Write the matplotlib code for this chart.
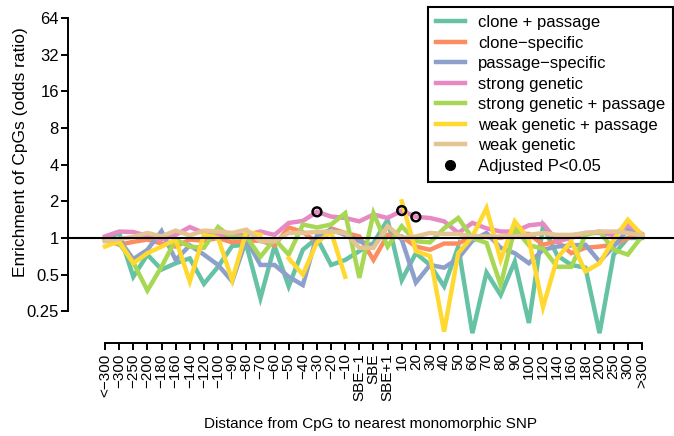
"""
Enrichment of CpGs vs. distance to nearest monomorphic SNP.
"""

import numpy as np

from matplotlib import pyplot as plt
from matplotlib.lines import Line2D

plt.rcParams['font.family'] = ['Liberation Sans', 'DejaVu Sans']
plt.rcParams['axes.unicode_minus'] = True

nan = np.nan

categories = ["<−300", "−300", "−250", "−200", "−180", "−160", "−140", "−120", "−100",
              "−90", "−80", "−70", "−60", "−50", "−40", "−30", "−20", "−10",
              "SBE−1", "SBE", "SBE+1",
              "10", "20", "30", "40", "50", "60", "70", "80", "90", "100",
              "120", "140", "160", "180", "200", "250", "300", ">300"]

clone_passage = [0.97, 1.10, 0.48, 0.73, 0.55, 0.62, 0.68, 0.42, 0.58, 0.86,
                 0.88, 0.32, 0.86, 0.40, 0.80, 1.00, 0.60, 0.66, 0.78, 0.91,
                 1.41, 0.45, 0.75, 0.60, 0.40, 0.85, 0.165, 0.52, 0.34, 0.64,
                 0.20, 1.25, 0.72, 0.60, 0.57, 0.165, 0.73, 1.00, 1.00]

clone_specific = [0.98, 0.88, 0.93, 0.97, 0.90, 0.85, 0.97, 0.95, 1.00, 0.92,
                  0.95, 0.95, 0.87, 1.22, 1.12, 0.92, 1.20, 1.10, 1.03, 0.66,
                  1.06, 1.03, 0.85, 0.80, 0.90, 0.90, 1.03, 1.02, 1.00, 1.08,
                  1.08, 0.88, 0.94, 0.75, 0.83, 0.85, 0.88, 1.00, 1.06]

passage_specific = [1.00, 0.97, 0.67, 0.80, 1.14, 0.66, 0.87, 0.73, 0.60, 0.44,
                    0.97, 0.60, 0.60, 0.48, 0.41, 1.05, 1.17, 1.06, 0.94, 0.85,
                    1.25, 0.97, 0.43, 0.60, 0.57, 0.68, 0.95, 1.10, 0.83, 0.75,
                    0.62, 0.80, 0.85, 0.87, 0.88, 0.64, 0.85, 1.17, 1.03]

strong_genetic = [1.03, 1.13, 1.12, 1.04, 0.97, 1.06, 1.23, 1.10, 1.05, 1.05,
                  1.06, 1.13, 1.06, 1.33, 1.38, 1.64, 1.50, 1.46, 1.37, 1.56,
                  1.46, 1.68, 1.49, 1.46, 1.37, 1.10, 1.33, 1.20, 1.13, 1.13,
                  1.27, 1.31, 0.94, 1.00, 1.10, 1.10, 1.06, 1.29, 1.08]

strong_genetic_passage = [0.95, 0.90, 0.63, 0.37, 0.58, 0.97, 0.85, 0.83, 1.23, 1.00,
                          1.03, 0.70, 0.98, 0.73, 1.29, 1.22, 1.29, 1.60, 0.47, 1.60,
                          0.85, 1.25, 0.94, 0.92, 1.20, 1.46, 1.00, 0.91, 0.41, 1.20,
                          0.87, 0.82, 0.58, 0.58, 1.06, 1.13, 0.80, 0.73, 1.03]

weak_genetic_passage = [0.85, 0.94, 0.62, 0.75, 0.85, 0.97, 0.44, 1.06, 1.00, 0.45,
                        1.13, 1.06, nan, 0.68, 0.50, 0.92, 1.12, 0.48, nan, nan,
                        nan, 2.00, 0.78, 0.71, 0.17, 0.75, 1.03, 1.76, 0.66, 1.37,
                        0.97, 0.27, 0.68, 0.94, 0.53, 0.62, 0.97, 1.41, 1.06]

weak_genetic = [0.94, 0.98, 1.02, 1.10, 1.03, 1.15, 1.05, 1.15, 1.13, 1.10,
                1.17, 0.94, 0.94, 1.10, 1.10, 1.12, 1.13, 1.10, 0.83, 0.83,
                1.25, 1.00, 1.03, 1.10, 1.08, 1.08, 1.03, 1.03, 1.03, 1.03,
                1.06, 1.10, 1.06, 1.06, 1.10, 1.13, 1.13, 1.10, 1.05]

series_names = ["clone + passage", "clone−specific", "passage−specific", "strong genetic",
                "strong genetic + passage", "weak genetic + passage", "weak genetic"]
series_values = [clone_passage, clone_specific, passage_specific, strong_genetic,
                 strong_genetic_passage, weak_genetic_passage, weak_genetic]
series_colors = ["#66C2A5", "#FC8D62", "#8DA0CB", "#E78AC3",
                 "#A6D854", "#FFD92F", "#E5C494"]

# Points with adjusted P < 0.05 (all on "strong genetic").
signif_idx = [15, 21, 22]

y_ticks = [0.25, 0.5, 1, 2, 4, 8, 16, 32, 64]
y_tick_labels = ["0.25", "0.5", "1", "2", "4", "8", "16", "32", "64"]

W, H = 674, 436
fig = plt.figure(figsize=(W / 100, H / 100), dpi=100)
ax = fig.add_axes([68 / W, 1 - 343 / H, (W - 68) / W, (343 - 7) / H])

x = np.arange(len(categories))
for name, vals, clr in zip(series_names, series_values, series_colors):
    ax.plot(x, vals, color=clr, lw=3.2, label=name, solid_joinstyle='miter', zorder=2)

ax.axhline(1, color='black', lw=1.5, zorder=3)

sig_y = [strong_genetic[i] for i in signif_idx]
ax.scatter(signif_idx, sig_y, s=40, facecolors='none', edgecolors='black',
           linewidths=1.8, zorder=4)

ax.set_yscale('log', base=2)
ax.set_ylim(0.137, 79.2)
ax.set_xlim(-2.62, 40.27)
ax.set_yticks(y_ticks)
ax.set_yticklabels(y_tick_labels)
ax.yaxis.set_minor_locator(plt.NullLocator())
ax.set_xticks(x)
ax.set_xticklabels(categories, rotation=90, va='top', ha='center')

for side in ('top', 'right'):
    ax.spines[side].set_visible(False)
ax.spines['left'].set_bounds(0.25, 64)
ax.spines['bottom'].set_bounds(0, len(categories) - 1)
for side in ('left', 'bottom'):
    ax.spines[side].set_linewidth(1.4)

ax.tick_params(axis='y', length=5, width=1.4, labelsize=12, pad=1.5)
ax.tick_params(axis='x', length=5, width=1.4, labelsize=11, pad=2.5)

ax.set_ylabel("Enrichment of CpGs (odds ratio)", fontsize=12.5)
ax.yaxis.set_label_coords(-0.066, (343 - 152) / 336)
ax.set_xlabel("Distance from CpG to nearest monomorphic SNP", fontsize=11)
ax.xaxis.set_label_coords(0.5, -0.22)

handles, labels = ax.get_legend_handles_labels()
handles.append(Line2D([], [], ls='none', marker='o', color='black', markersize=7))
labels.append("Adjusted P<0.05")
leg = ax.legend(handles, labels, loc='upper right', bbox_to_anchor=(0.999, 1),
                borderaxespad=0, fontsize=12, handlelength=1.7, handletextpad=0.8,
                labelspacing=0.33, borderpad=0.5, fancybox=False, framealpha=1,
                edgecolor='black')
leg.get_frame().set_linewidth(1.5)

fig.savefig("out.png", dpi=100)
